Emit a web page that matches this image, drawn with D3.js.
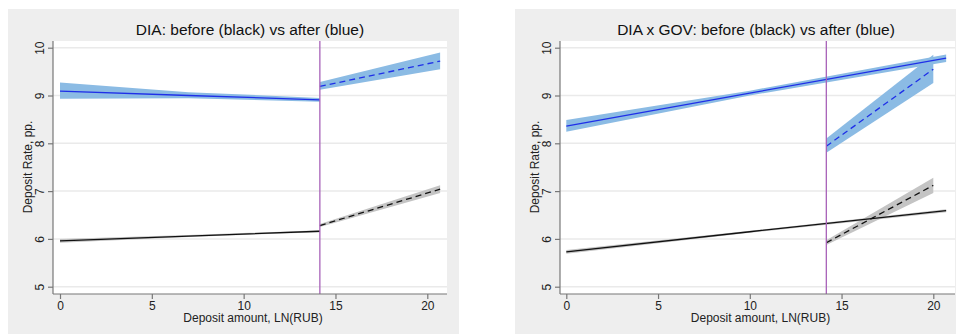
<!DOCTYPE html>
<html>
<head>
<meta charset="utf-8">
<script src="https://cdn.jsdelivr.net/npm/d3@7"></script>
<style>
  body { margin: 0; background: #fff; }
  svg text { font-family: "Liberation Sans", Arial, sans-serif; }
</style>
</head>
<body>
<div id="chart"></div>
<script>
// tick values
const xTicks = [0, 5, 10, 15, 20];
const yTicks = [5, 6, 7, 8, 9, 10];

// panel titles
const titles = ['DIA: before (black) vs after (blue)', 'DIA x GOV: before (black) vs after (blue)'];

// threshold (vertical line), LN(RUB)
const cutoffs = [14.15, 14.17];

// series: x, fitted value, lower, upper
const diaBlueBefore = { x: [0, 7, 14.15], y: [9.09, 9.0, 8.91], lo: [8.93, 8.94, 8.87], hi: [9.27, 9.07, 8.95] };
const diaBlueAfter = { x: [14.15, 20.7], y: [9.19, 9.72], lo: [9.12, 9.55], hi: [9.28, 9.9] };
const diaBlackBefore = { x: [0, 7, 14.15], y: [5.96, 6.06, 6.16], lo: [5.92, 6.04, 6.14], hi: [6.0, 6.08, 6.18] };
const diaBlackAfter = { x: [14.15, 20.7], y: [6.28, 7.04], lo: [6.25, 6.96], hi: [6.31, 7.12] };

const govBlueLine = { x: [0, 10, 20.7], y: [8.36, 9.05, 9.78], lo: [8.24, 9.0, 9.7], hi: [8.49, 9.1, 9.86] };
const govBlueAfter = { x: [14.17, 20], y: [7.94, 9.55], lo: [7.8, 9.26], hi: [8.1, 9.85] };
const govBlackLine = { x: [0, 10, 20.7], y: [5.73, 6.15, 6.59], lo: [5.69, 6.13, 6.56], hi: [5.77, 6.17, 6.62] };
const govBlackAfter = { x: [14.17, 20], y: [5.92, 7.12], lo: [5.87, 6.96], hi: [5.97, 7.28] };

const panels = [
  { bg: [8, 9, 451, 325], plot: [53, 41, 447, 294], x0: 60, x20: 427.3, title: titles[0], titleX: 250, cut: cutoffs[0],
    series: [
      { d: diaBlueBefore, c: '#1f2fe8', f: '#8bbbe4', dash: null },
      { d: diaBlueAfter, c: '#1f2fe8', f: '#8bbbe4', dash: '6,4' },
      { d: diaBlackBefore, c: '#111', f: '#c4c4c4', dash: null },
      { d: diaBlackAfter, c: '#111', f: '#c4c4c4', dash: '6,4' }
    ] },
  { bg: [515, 9, 441, 325], plot: [560, 41, 955, 294], x0: 566.3, x20: 933.3, title: titles[1], titleX: 756, cut: cutoffs[1],
    series: [
      { d: govBlueLine, c: '#1f2fe8', f: '#8bbbe4', dash: null },
      { d: govBlueAfter, c: '#1f2fe8', f: '#8bbbe4', dash: '6,4' },
      { d: govBlackLine, c: '#111', f: '#c4c4c4', dash: null },
      { d: govBlackAfter, c: '#111', f: '#c4c4c4', dash: '6,4' }
    ] }
];

const svg = d3.select('#chart').append('svg')
  .attr('width', 956)
  .attr('height', 334);

panels.forEach(p => {
  const [px0, py0, px1, py1] = p.plot;

  const x = d3.scaleLinear().domain([0, 20]).range([p.x0, p.x20]);
  const y = d3.scaleLinear().domain([5, 10]).range([286.7, 47.7]);

  svg.append('rect')
    .attr('x', p.bg[0]).attr('y', p.bg[1])
    .attr('width', p.bg[2]).attr('height', p.bg[3])
    .attr('fill', '#eeeeee');

  svg.append('rect')
    .attr('x', px0).attr('y', py0)
    .attr('width', px1 - px0).attr('height', py1 - py0)
    .attr('fill', '#fff');

  // gridlines
  svg.append('g').selectAll('line')
    .data(yTicks)
    .join('line')
    .attr('x1', px0).attr('x2', px1)
    .attr('y1', d => y(d)).attr('y2', d => y(d))
    .attr('stroke', '#eaeaea')
    .attr('stroke-width', 1.5);

  // bands and lines
  p.series.forEach(s => {
    const pts = s.d.x.map((v, i) => ({ x: v, y: s.d.y[i], lo: s.d.lo[i], hi: s.d.hi[i] }));
    svg.append('path')
      .datum(pts)
      .attr('fill', s.f)
      .attr('d', d3.area().x(d => x(d.x)).y0(d => y(d.lo)).y1(d => y(d.hi)));
  });
  p.series.forEach(s => {
    const pts = s.d.x.map((v, i) => ({ x: v, y: s.d.y[i] }));
    svg.append('path')
      .datum(pts)
      .attr('fill', 'none')
      .attr('stroke', s.c)
      .attr('stroke-width', 1.3)
      .attr('stroke-dasharray', s.dash)
      .attr('d', d3.line().x(d => x(d.x)).y(d => y(d.y)));
  });

  // cutoff
  svg.append('line')
    .attr('x1', x(p.cut)).attr('x2', x(p.cut))
    .attr('y1', py0).attr('y2', py1)
    .attr('stroke', '#a862b8')
    .attr('stroke-width', 1.3);

  // axes
  const xAxis = svg.append('g')
    .attr('transform', 'translate(0,' + py1 + ')')
    .call(d3.axisBottom(x).tickValues(xTicks).tickSize(5).tickPadding(2).tickSizeOuter(0));
  xAxis.select('.domain').attr('d', 'M' + px0 + ',0H' + px1);
  const yAxis = svg.append('g')
    .attr('transform', 'translate(' + px0 + ',0)')
    .call(d3.axisLeft(y).tickValues(yTicks).tickFormat(d3.format('d')).tickSize(5).tickSizeOuter(0));
  yAxis.select('.domain').attr('d', 'M0,' + py0 + 'V' + py1);
  yAxis.selectAll('.tick text')
    .attr('transform', 'rotate(-90)')
    .attr('x', 0).attr('y', -9)
    .attr('dy', 0)
    .attr('text-anchor', 'middle');

  [xAxis, yAxis].forEach(a => {
    a.selectAll('.domain, .tick line').attr('stroke', '#777').attr('stroke-width', 1.2);
    a.selectAll('.tick text').attr('fill', '#222').attr('font-size', 12);
  });

  svg.append('text')
    .attr('x', (px0 + px1) / 2 + 3).attr('y', 322)
    .attr('text-anchor', 'middle')
    .attr('font-size', 12)
    .attr('fill', '#222')
    .text('Deposit amount, LN(RUB)');

  svg.append('text')
    .attr('transform', 'translate(' + (px0 - 21) + ',167) rotate(-90)')
    .attr('text-anchor', 'middle')
    .attr('font-size', 12)
    .attr('fill', '#222')
    .text('Deposit Rate, pp.');

  svg.append('text')
    .attr('x', p.titleX).attr('y', 35)
    .attr('text-anchor', 'middle')
    .attr('font-size', 15.5)
    .attr('fill', '#111')
    .text(p.title);
});
</script>
</body>
</html>
